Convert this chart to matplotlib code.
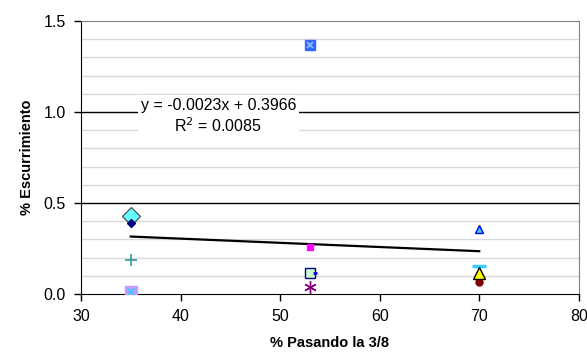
import numpy as np
import matplotlib
matplotlib.use("Agg")
import matplotlib.pyplot as plt
from matplotlib.ticker import MultipleLocator, FormatStrFormatter

plt.rcParams['font.family'] = ['Liberation Sans', 'DejaVu Sans']

# datos: % pasando la 3/8 vs % escurrimiento
x35 = [35, 35, 35, 35]
y35 = [0.43, 0.39, 0.19, 0.01]
x53 = [53, 53, 53, 53.5, 53]
y53 = [1.37, 0.26, 0.115, 0.115, 0.04]
x70 = [70, 70, 70, 70]
y70 = [0.36, 0.155, 0.115, 0.065]

# tendencia lineal
pend = -0.0023
orig = 0.3966
r2 = 0.0085
x_tend = [35, 70]

fig = plt.figure(figsize=(5.87, 3.6), dpi=100)
ax = fig.add_axes([0.138, 0.183, 0.848, 0.759])

ax.set_xlim(30, 80)
ax.set_ylim(0, 1.5)

# rejilla
for v in np.arange(0.1, 1.5, 0.1):
    if abs(v - 0.5) < 1e-6 or abs(v - 1.0) < 1e-6:
        ax.axhline(v, color='black', lw=1, zorder=1)
    else:
        ax.axhline(v, color='#d9d9d9', lw=1, zorder=1)

# serie 35
ax.plot(x35[0], y35[0], 'D', ms=9, mfc='#66FFFF', mec='#404040', mew=0.8, zorder=3)
ax.plot(x35[1], y35[1], 'D', ms=4, mfc='#000080', mec='#000080', zorder=3)
ax.plot(x35[2], y35[2], '+', ms=8, color='#339999', mew=1.2, zorder=3)
ax.plot(x35[3], y35[3], 's', ms=8, mfc='#CC99FF', mec='#CC99FF', zorder=3)
ax.plot(x35[3], y35[3], 'x', ms=6, color='#33CCFF', mew=1.3, zorder=4)

# serie 53
ax.plot(x53[0], y53[0], 's', ms=7, mfc='#3366FF', mec='#3366FF', zorder=3)
ax.plot(x53[0], y53[0], 'x', ms=5, color='#99BBFF', mew=1.2, zorder=4)
ax.plot(x53[1], y53[1], 's', ms=5, mfc='#FF00FF', mec='#FF00FF', zorder=3)
ax.plot(x53[2], y53[2], 's', ms=7, mfc='#CCFFCC', mec='#000080', mew=1, zorder=3)
ax.plot(x53[3], y53[3], '_', ms=3, color='#0000FF', mew=2, zorder=3)
ax.plot(x53[4], y53[4], marker=(6, 2, 0), ms=9, color='#800080', mew=1, lw=0, zorder=3)

# serie 70
ax.plot(x70[0], y70[0], '^', ms=6, mfc='#33CCFF', mec='#0000FF', mew=1, zorder=3)
ax.plot(x70[1], y70[1], '_', ms=10, color='#33CCFF', mew=2.5, zorder=3)
ax.plot(x70[2], y70[2], '^', ms=9, mfc='#FFFF00', mec='black', mew=1, zorder=4)
ax.plot(x70[3], y70[3], 'o', ms=5, mfc='#800000', mec='#800000', zorder=3)

# linea de tendencia
y_tend = [pend * v + orig for v in x_tend]
ax.plot(x_tend, y_tend, color='black', lw=1.6, zorder=2)

ax.text(43.8, 0.975, 'y = -0.0023x + 0.3966\nR$^2$ = 0.0085', ha='center', va='center',
        fontsize=11.5, linespacing=1.25, zorder=5,
        bbox=dict(facecolor='white', edgecolor='none', pad=2))

ax.xaxis.set_major_locator(MultipleLocator(10))
ax.yaxis.set_major_locator(MultipleLocator(0.5))
ax.yaxis.set_major_formatter(FormatStrFormatter('%.1f'))
ax.tick_params(direction='out', length=5, width=1, labelsize=11.5, colors='black')
ax.tick_params(axis='x', pad=6)
ax.tick_params(axis='y', pad=6)

for s in ['left', 'bottom']:
    ax.spines[s].set_color('black')
for s in ['top', 'right']:
    ax.spines[s].set_color('#808080')

ax.set_xlabel('% Pasando la 3/8', fontsize=10.5, fontweight='bold', labelpad=8)
ax.set_ylabel('% Escurrimiento', fontsize=10.5, fontweight='bold', labelpad=7)

fig.savefig('out.png', dpi=100)
